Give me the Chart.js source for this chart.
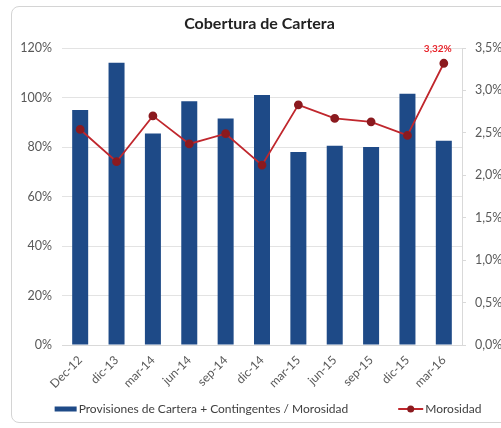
<!DOCTYPE html>
<html>
<head>
<meta charset="utf-8">
<script src="https://cdn.jsdelivr.net/npm/chart.js@4/dist/chart.umd.min.js"></script>
<style>
  html, body { margin: 0; padding: 0; background: #fff; overflow: hidden; }
  #wrap { position: relative; width: 501px; height: 428px; }
  #frame { position: absolute; left: 11px; top: 6px; width: 520px; height: 417px;
           border: 1px solid #d4d4d4; border-radius: 8px; box-sizing: border-box; }
  canvas { position: absolute; left: 0; top: 0; }
</style>
</head>
<body>
<div id="wrap">
  <div id="frame"></div>
  <canvas id="c" width="501" height="428"></canvas>
</div>
<script>
const categories = ["Dec-12","dic-13","mar-14","jun-14","sep-14","dic-14","mar-15","jun-15","sep-15","dic-15","mar-16"];
const coberturaValues = [95, 114, 85.5, 98.5, 91.5, 101, 78, 80.5, 80, 101.5, 82.5];
const morosidadValues = [2.54, 2.16, 2.70, 2.37, 2.49, 2.12, 2.83, 2.67, 2.63, 2.47, 3.32];
const leftTicks = [0, 20, 40, 60, 80, 100, 120];
const rightTicks = [0, 0.5, 1.0, 1.5, 2.0, 2.5, 3.0, 3.5];
const seriesNames = ["Provisiones de Cartera + Contingentes / Morosidad", "Morosidad"];
const titleText = "Cobertura de Cartera";

const FONT = "Lato, 'Open Sans', sans-serif";
const BAR = "#1E4A87";
const LINE = "#C0272D";
const MARK = "#8B1A1F";

const lastLabel = {
  id: 'lastLabel',
  afterDatasetsDraw(chart) {
    const meta = chart.getDatasetMeta(1);
    const i = morosidadValues.length - 1;
    const p = meta.data[i];
    const ctx = chart.ctx;
    ctx.save();
    ctx.font = "bold 10px " + FONT;
    ctx.fillStyle = "#E8232A";
    ctx.textAlign = "center";
    ctx.textBaseline = "middle";
    ctx.fillText(morosidadValues[i].toFixed(2).replace('.', ',') + '%', p.x - 6, p.y - 14);
    ctx.restore();
  }
};

// custom bottom legend (text drawn by canvas)
const customLegend = {
  id: 'customLegend',
  afterDraw(chart) {
    const ctx = chart.ctx;
    ctx.save();
    ctx.font = "12px " + FONT;
    ctx.textBaseline = "middle";
    ctx.textAlign = "left";
    const sw = 22, gapTxt = 2, gapItems = 50;
    const w1 = ctx.measureText(seriesNames[0]).width;
    const w2 = ctx.measureText(seriesNames[1]).width;
    const total = sw + gapTxt + w1 + gapItems + 25 + gapTxt + w2;
    const cx = 268, y = 409;
    let x = cx - total / 2;
    ctx.fillStyle = BAR;
    ctx.fillRect(x, y - 2.5, sw, 5);
    x += sw + gapTxt;
    ctx.fillStyle = "#404040";
    ctx.fillText(seriesNames[0], x, y + 0.5);
    x += w1 + gapItems;
    ctx.strokeStyle = LINE;
    ctx.lineWidth = 2;
    ctx.beginPath();
    ctx.moveTo(x, y);
    ctx.lineTo(x + 25, y);
    ctx.stroke();
    ctx.fillStyle = MARK;
    ctx.beginPath();
    ctx.arc(x + 12.5, y, 3.5, 0, Math.PI * 2);
    ctx.fill();
    x += 25 + gapTxt;
    ctx.fillStyle = "#404040";
    ctx.fillText(seriesNames[1], x, y + 0.5);
    ctx.restore();
  }
};

new Chart(document.getElementById('c'), {
  data: {
    labels: categories,
    datasets: [
      {
        type: 'bar',
        label: seriesNames[0],
        data: coberturaValues,
        backgroundColor: BAR,
        yAxisID: 'y',
        barPercentage: 0.44,
        categoryPercentage: 1.0,
        order: 2
      },
      {
        type: 'line',
        label: seriesNames[1],
        data: morosidadValues,
        borderColor: LINE,
        backgroundColor: MARK,
        borderWidth: 1.8,
        pointRadius: 3.5,
        pointBackgroundColor: MARK,
        pointBorderColor: MARK,
        tension: 0,
        yAxisID: 'y1',
        order: 1
      }
    ]
  },
  options: {
    responsive: false,
    animation: false,
    layout: { padding: { left: 18, right: 0, top: 6, bottom: 35 } },
    plugins: {
      tooltip: { enabled: false },
      legend: { display: false },
      title: {
        display: true,
        text: titleText,
        color: "#222222",
        font: { family: FONT, size: 16, weight: 'bold', lineHeight: 1.2 },
        padding: { top: 8, bottom: 14.8 }
      }
    },
    scales: {
      x: {
        grid: { display: false, drawTicks: false },
        border: { color: "#d9d9d9" },
        ticks: {
          color: "#595959",
          font: { family: FONT, size: 12 },
          maxRotation: 45, minRotation: 45,
          padding: 8,
          autoSkip: false
        },
        afterFit(scale) { scale.height = 48; }
      },
      y: {
        position: 'left',
        min: 0, max: 120,
        afterBuildTicks(scale) { scale.ticks = leftTicks.map(v => ({ value: v })); },
        grid: { color: "#e3e3e3", drawTicks: false },
        border: { display: false },
        ticks: {
          color: "#595959",
          font: { family: FONT, size: 12.5 },
          padding: 10,
          callback: v => v + '%'
        },
        afterFit(scale) { scale.width = 44; }
      },
      y1: {
        position: 'right',
        min: 0, max: 3.5,
        afterBuildTicks(scale) { scale.ticks = rightTicks.map(v => ({ value: v })); },
        grid: { display: true, drawOnChartArea: false, drawTicks: true, tickLength: 4, color: "#d9d9d9" },
        border: { display: true, color: "#d9d9d9" },
        ticks: {
          color: "#595959",
          font: { family: FONT, size: 12.5 },
          padding: 9,
          callback: v => v.toFixed(1).replace('.', ',') + '%'
        },
        afterFit(scale) { scale.width = 39; }
      }
    }
  },
  plugins: [lastLabel, customLegend]
});
</script>
</body>
</html>
